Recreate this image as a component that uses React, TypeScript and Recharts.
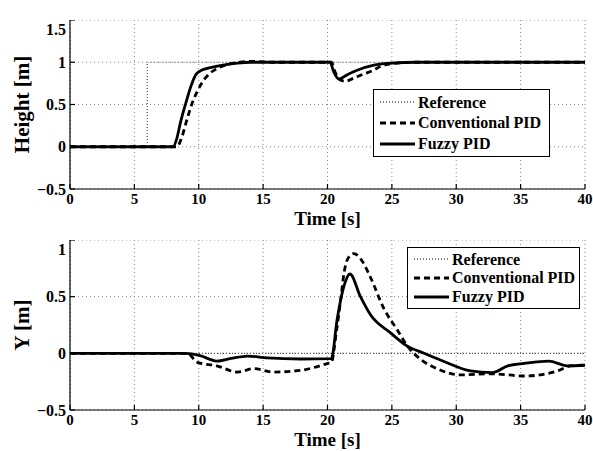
import { LineChart, Line, XAxis, YAxis, CartesianGrid } from 'recharts';

// Times-like bold, close to the MATLAB figure export
const FONT = '"Liberation Serif", "Times New Roman", serif';
const INK = '#000';
const GRID = '#888';
const REF_INK = '#555';

const TIME_TICKS = [0, 5, 10, 15, 20, 25, 30, 35, 40];
const HEIGHT_TICKS = [-0.5, 0, 0.5, 1, 1.5];
const Y_TICKS = [-0.5, 0, 0.5, 1];

// Height [m] — top panel
const hRefT = [0, 6, 6, 40];
const hRefV = [0, 0, 1, 1];
const hConvT = [0, 8.3, 8.7, 9.1, 9.5, 9.9, 10.3, 10.8, 11.5, 12.2, 13.2, 14, 16, 20.3, 20.6, 21.0, 21.4, 22.0, 22.8, 23.5, 24.1, 25.4, 27, 40];
const hConvV = [0, 0, 0.12, 0.33, 0.52, 0.66, 0.77, 0.86, 0.93, 0.97, 1.0, 1.01, 1.0, 1.0, 0.88, 0.79, 0.775, 0.81, 0.86, 0.9, 0.95, 0.99, 1.0, 1.0];
const hFuzzyT = [0, 8.0, 8.3, 8.6, 9.0, 9.4, 9.8, 10.3, 11, 12, 13, 14, 20.2, 20.5, 20.9, 21.5, 22.3, 23.6, 24.9, 27, 40];
const hFuzzyV = [0, 0, 0.1, 0.3, 0.52, 0.72, 0.86, 0.91, 0.94, 0.97, 0.99, 1.0, 1.0, 0.88, 0.8, 0.85, 0.905, 0.965, 0.99, 1.0, 1.0];

// Y [m] — bottom panel
const yRefT = [0, 40];
const yRefV = [0, 0];
const yConvT = [0, 9.1, 9.9, 11.4, 13.0, 14.3, 15.8, 17.9, 20.0, 20.3, 20.7, 21.0, 21.3, 21.6, 22.05, 22.6, 23.3, 24.4, 25.4, 26.2, 27.2, 28.5, 30.3, 32.7, 35.3, 36.5, 37.85, 38.9, 40];
const yConvV = [0, 0, -0.08, -0.11, -0.165, -0.135, -0.165, -0.15, -0.09, -0.08, 0.2, 0.45, 0.72, 0.84, 0.88, 0.83, 0.68, 0.39, 0.21, 0.065, -0.05, -0.135, -0.19, -0.18, -0.2, -0.19, -0.155, -0.11, -0.105];
const yFuzzyT = [0, 9.0, 10.1, 11.4, 12.5, 13.8, 15.3, 17.9, 20.3, 20.75, 21.27, 21.74, 22.56, 23.34, 24.9, 26.1, 27.5, 29.0, 31.1, 32.8, 34.0, 35.3, 37.2, 38.6, 40];
const yFuzzyV = [0, 0, -0.02, -0.068, -0.045, -0.024, -0.04, -0.05, -0.047, 0.3, 0.59, 0.7, 0.5, 0.34, 0.18, 0.07, 0.0, -0.07, -0.155, -0.17, -0.11, -0.088, -0.068, -0.11, -0.105];

const zip = (t: number[], v: number[]) => t.map((x, i) => ({ t: x, v: v[i] }));

const fmtNum = (v: number) => (v < 0 ? `\u2212${Math.abs(v)}` : `${v}`);

const textStyle = (size: number) => ({ fontSize: size, fontWeight: 'bold' as const, fontFamily: FONT, fill: INK });

// custom ticks so the serif font actually sticks
function XTick(props: any) {
  const { x, y, payload } = props;
  return (
    <text x={x} y={y} dy="0.71em" textAnchor="middle" style={textStyle(15)}>
      {fmtNum(payload.value)}
    </text>
  );
}

function YTick(props: any) {
  const { x, y, payload } = props;
  return (
    <text x={x} y={y} dy="0.355em" textAnchor="end" style={textStyle(16)}>
      {fmtNum(payload.value)}
    </text>
  );
}

function yLabel(text: string) {
  return (props: any) => {
    const vb = props.viewBox || {};
    const cx = vb.x + 22;
    const cy = vb.y + vb.height / 2;
    return (
      <text x={cx} y={cy} transform={`rotate(-90 ${cx} ${cy})`} textAnchor="middle" dominantBaseline="central"
        style={textStyle(21)}>
        {text}
      </text>
    );
  };
}

function xLabel(props: any) {
  const vb = props.viewBox || {};
  return (
    <text x={vb.x + vb.width / 2} y={vb.y + 36} textAnchor="middle" style={textStyle(19)}>
      Time [s]
    </text>
  );
}

interface PanelProps {
  top: number;
  height: number;
  domain: [number, number];
  ticks: number[];
  label: string;
  refData: { t: number; v: number }[];
  convData: { t: number; v: number }[];
  fuzzyData: { t: number; v: number }[];
}

function Panel({ top, height, domain, ticks, label, refData, convData, fuzzyData }: PanelProps) {
  return (
    <div style={{ position: 'absolute', left: 0, top }}>
      <LineChart width={593} height={height} margin={{ top: 0, right: 8, bottom: 0, left: 0 }}>
        <CartesianGrid stroke={GRID} strokeDasharray="1 3" />
        <XAxis dataKey="t" type="number" domain={[0, 40]} ticks={TIME_TICKS} allowDuplicatedCategory={false}
          height={41} stroke={INK} strokeWidth={1.2} tickSize={-5} tickMargin={9} tick={<XTick />}
          label={xLabel} />
        <XAxis xAxisId="top" type="number" orientation="top" domain={[0, 40]} ticks={TIME_TICKS} height={0}
          stroke={INK} strokeWidth={1.2} tickSize={-5} tickFormatter={() => ''} />
        <YAxis type="number" domain={domain} ticks={ticks} width={70} stroke={INK} strokeWidth={1.2}
          tickSize={-5} tickMargin={9} tick={<YTick />} label={yLabel(label)} />
        <YAxis yAxisId="right" type="number" orientation="right" domain={domain} ticks={ticks} width={0}
          stroke={INK} strokeWidth={1.2} tickSize={-5} tickFormatter={() => ''} />
        <Line data={refData} dataKey="v" type="linear" stroke={REF_INK} strokeWidth={1.2} strokeDasharray="1 2" dot={false} isAnimationActive={false} />
        <Line data={convData} dataKey="v" type="monotone" stroke={INK} strokeWidth={2.8} strokeDasharray="6 4" dot={false} isAnimationActive={false} />
        <Line data={fuzzyData} dataKey="v" type="monotone" stroke={INK} strokeWidth={2.8} dot={false} isAnimationActive={false} />
      </LineChart>
    </div>
  );
}

function LegendBox({ left, top, width, height }: { left: number; top: number; width: number; height: number }) {
  const rows = [
    { name: 'Reference', dash: '1 2', w: 1.5, color: REF_INK },
    { name: 'Conventional PID', dash: '6 4', w: 2.8, color: INK },
    { name: 'Fuzzy PID', dash: undefined, w: 2.8, color: INK },
  ];
  return (
    <div style={{
      position: 'absolute', left, top, width, height, background: '#fff', border: `1px solid ${INK}`,
      padding: '2px 0', fontFamily: FONT, fontWeight: 'bold', fontSize: 16, color: INK, boxSizing: 'border-box',
      display: 'flex', flexDirection: 'column', justifyContent: 'space-around',
    }}>
      {rows.map(r => (
        <div key={r.name} style={{ display: 'flex', alignItems: 'center', lineHeight: '17px' }}>
          <svg width={38} height={10} style={{ marginLeft: 4, marginRight: 2, flex: 'none' }}>
            <line x1={2} y1={5} x2={37} y2={5} stroke={r.color} strokeWidth={r.w} strokeDasharray={r.dash} />
          </svg>
          <span style={{ whiteSpace: 'nowrap' }}>{r.name}</span>
        </div>
      ))}
    </div>
  );
}

export default function App() {
  return (
    <div style={{ position: 'absolute', left: 0, top: 0, width: 593, height: 451, background: '#fff' }}>
      <Panel top={20} height={210} domain={[-0.5, 1.5]} ticks={HEIGHT_TICKS} label="Height [m]"
        refData={zip(hRefT, hRefV)} convData={zip(hConvT, hConvV)} fuzzyData={zip(hFuzzyT, hFuzzyV)} />
      <Panel top={240} height={211} domain={[-0.5, 1]} ticks={Y_TICKS} label="Y [m]"
        refData={zip(yRefT, yRefV)} convData={zip(yConvT, yConvV)} fuzzyData={zip(yFuzzyT, yFuzzyV)} />
      <LegendBox left={373} top={89} width={177} height={68} />
      <LegendBox left={407} top={247} width={173} height={62} />
    </div>
  );
}
